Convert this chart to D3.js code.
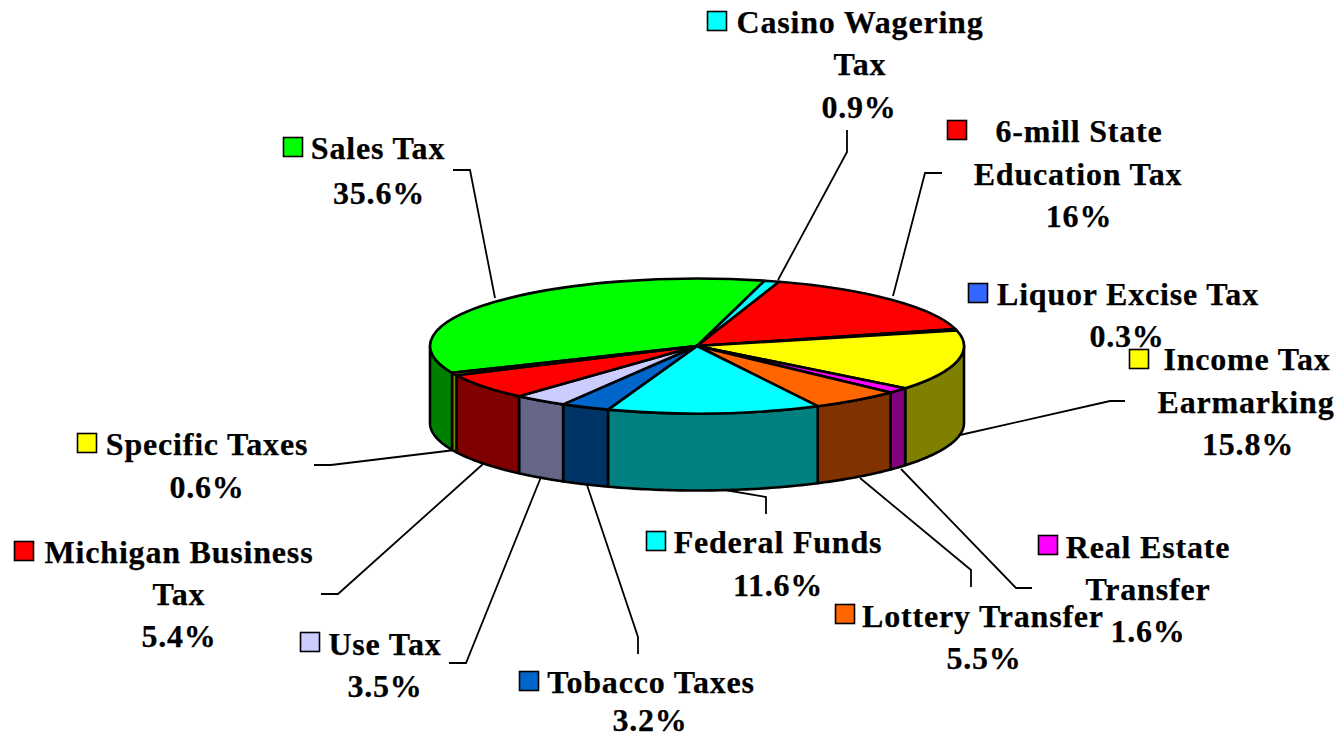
<!DOCTYPE html>
<html><head><meta charset="utf-8">
<script src="https://cdn.jsdelivr.net/npm/d3@7/dist/d3.min.js"></script>
<style>html,body{margin:0;padding:0;background:#fff}svg{display:block}
text{font-family:"Liberation Serif",serif;font-weight:bold;font-size:32px;fill:#000;letter-spacing:.8px;stroke:#000;stroke-width:.25px}</style>
</head><body><svg id="c" width="1338" height="738"></svg>
<script>
// data
const categories = ["Sales Tax","Casino Wagering Tax","6-mill State Education Tax","Liquor Excise Tax","Income Tax Earmarking","Real Estate Transfer","Lottery Transfer","Federal Funds","Tobacco Taxes","Use Tax","Michigan Business Tax","Specific Taxes"];
const values = [35.6,0.9,16,0.3,15.8,1.6,5.5,11.6,3.2,3.5,5.4,0.6];
const valueLabels = ["35.6%","0.9%","16%","0.3%","15.8%","1.6%","5.5%","11.6%","3.2%","3.5%","5.4%","0.6%"];
// styles
const topColors = ["#00ff00","#00ffff","#ff0000","#3366ff","#ffff00","#ff00ff","#ff6600","#00ffff","#0066cc","#ccccff","#ff0000","#ffff00"];
const sideColors = ["#008000","#008080","#800000","#1a3380","#808000","#800080","#803300","#008080","#003366","#666688","#800000","#808000"];
// layout: label text lines [text, centre x, baseline y], key [x centre, y centre]
const labelLines = [
 [["Sales Tax",378,159],["35.6%",379,204]],
 [["Casino Wagering",860,33],["Tax",860,75],["0.9%",859,118]],
 [["6-mill State",1079,142],["Education Tax",1078,185],["16%",1079,227]],
 [["Liquor Excise Tax",1128,305],["0.3%",1127,347]],
 [["Income Tax",1247,370],["Earmarking",1246,413],["15.8%",1248,455]],
 [["Real Estate",1148,558],["Transfer",1148,600],["1.6%",1148,642]],
 [["Lottery Transfer",983,627],["5.5%",984,669]],
 [["Federal Funds",778,553],["11.6%",778,596]],
 [["Tobacco Taxes",651,693],["3.2%",650,731]],
 [["Use Tax",385,655],["3.5%",385,697]],
 [["Michigan Business",179,563],["Tax",179,605],["5.4%",179,647]],
 [["Specific Taxes",207,455],["0.6%",207,498]]
];
const keyPos = [[293,147],[717,21],[957,130],[978,293],[1139,359],[1048,545],[845,614],[656,541],[529,681],[310,642],[24,551],[87,443]];
const leaders = [
 [[495,298],[470,170],[453,170]],
 [[778,280],[847,152],[847,130]],
 [[893,296],[925,173],[942,173]],
 null,
 [[960,435],[1110,401],[1125,401]],
 [[901,469],[1016,588],[1032,588]],
 [[860,478],[971,570],[971,587]],
 [[725,490],[766,497],[766,514]],
 [[587,485],[638,637],[638,654]],
 [[541,477],[466,663],[449,663]],
 [[483,464],[338,594],[321,594]],
 [[455,450],[331,465],[314,465]]
];
const cx=697, cy=346, rx=267, ry=67.5, depth=77, startDeg=-113.5;
// the reference's 3D view compresses/stretches the front of the disc: true angle -> drawn angle (degrees)
const viewDomain=[-113.5,76.6,133.5,139.2,159,200.8,212.3,224.9,244.3,246.5];
const viewRange =[-113.5,76.6,128.8,133.5,153.1,199.5,210.1,221.8,244.2,246.5];
const viewAngle=d3.scaleLinear().domain(viewDomain).range(viewRange);
const rad=Math.PI/180;

const svg=d3.select("#c");
const pie=d3.pie().sort(null).startAngle(startDeg*rad).endAngle((startDeg+360)*rad);
const arcs=pie(values).map(d=>({...d,startAngle:viewAngle(d.startAngle/rad)*rad,endAngle:viewAngle(d.endAngle/rad)*rad}));
const px=a=>cx+rx*Math.sin(a), py=a=>cy-ry*Math.cos(a);

// leader lines
const line=d3.line();
svg.append("g").selectAll("path").data(leaders.filter(Boolean)).join("path")
  .attr("d",line).attr("fill","none").attr("stroke","#000").attr("stroke-width",1.8);

// walls (visible front half only)
const HALF=Math.PI/2, wall=[];
arcs.forEach((d,i)=>{
  [-2,0,2].forEach(k=>{
    const a0=Math.max(d.startAngle+k*Math.PI,HALF), a1=Math.min(d.endAngle+k*Math.PI,3*HALF);
    if(a1>a0) wall.push({i,a0,a1});
  });
});
const wallPath=w=>{
  const s=d3.scaleLinear().domain([0,48]).range([w.a0,w.a1]);
  const pts=d3.range(49).map(t=>s(t));
  const topE=pts.map(a=>[px(a),py(a)]), botE=pts.slice().reverse().map(a=>[px(a),py(a)+depth]);
  return line(topE.concat(botE))+"Z";
};
svg.append("g").selectAll("path").data(wall).join("path")
  .attr("d",wallPath).attr("fill",d=>sideColors[d.i]).attr("stroke","#000").attr("stroke-width",2.6).attr("stroke-linejoin","round");

// top
const arc=d3.arc().innerRadius(0).outerRadius(rx);
svg.append("g").attr("transform",`translate(${cx},${cy}) scale(1,${ry/rx})`)
  .selectAll("path").data(arcs).join("path")
  .attr("d",arc).attr("fill",(d,i)=>topColors[i]).attr("stroke","#000").attr("stroke-width",2.6)
  .attr("stroke-linejoin","round").attr("vector-effect","non-scaling-stroke");

// labels + keys
svg.append("g").selectAll("text").data(labelLines.flat()).join("text")
  .attr("x",d=>d[1]).attr("y",d=>d[2]).attr("text-anchor","middle").text(d=>d[0]);
svg.append("g").selectAll("rect").data(keyPos).join("rect")
  .attr("x",d=>d[0]-9.5).attr("y",d=>d[1]-9.5).attr("width",19).attr("height",19)
  .attr("fill",(d,i)=>topColors[i]).attr("stroke","#000").attr("stroke-width",1.6);
</script></body></html>
